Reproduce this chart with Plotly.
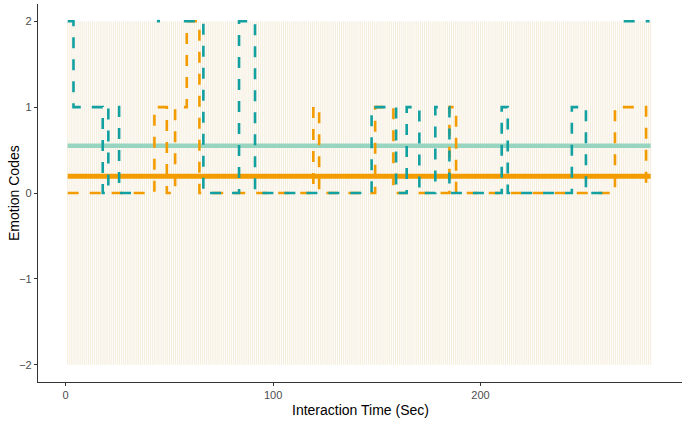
import plotly.graph_objects as go

# observation grid (one record per second)
seconds = list(range(1, 283))

# Teal emotion code series (change points; None = missing stretch)
teal_t = [1, 3.8, 17.9, 20.6, 25.8, 36, None,
          44, 45.5, None,
          57, 66.4, 83.6, 91.3, 147.5, 159.3, 164.4, 170.5, 178.2, 185,
          210.2, 213.1, 244, 250.8, 264, None,
          269, 281.5]
teal_code = [2, 1, 0, 1, 0, 0, None,
             2, 2, None,
             2, 0, 2, 0, 1, 0, 1, 0, 1, 0,
             1, 0, 1, 0, 0, None,
             2, 2]

# Orange emotion code series (change points)
orange_t = [1, 42.8, 48.8, 52.8, 58.4, 64.5, 119.4, 122.2, 149.2, 158,
            185, 188.2, 264.8, 279.8]
orange_code = [0, 1, 0, 1, 2, 0, 1, 0, 1, 0,
               1, 0, 1, 0]

# mean levels
teal_mean = 0.551
orange_mean = 0.194
mean_span = [1, 282]

x_ticks = [0, 100, 200]
y_ticks = [-2, -1, 0, 1, 2]

TEAL = "#13a0a0"
TEAL_LIGHT = "#97d5c0"
ORANGE = "#f39c00"

fig = go.Figure()

vx, vy = [], []
for s in seconds:
    vx += [s, s, None]
    vy += [-2, 2, None]
fig.add_trace(go.Scatter(x=vx, y=vy, mode="lines",
                         line=dict(color="rgba(215,180,110,0.24)", width=1.1),
                         hoverinfo="skip", showlegend=False))

fig.add_trace(go.Scatter(x=mean_span, y=[teal_mean] * 2, mode="lines",
                         line=dict(color=TEAL_LIGHT, width=4.5), showlegend=False))
fig.add_trace(go.Scatter(x=mean_span, y=[orange_mean] * 2, mode="lines",
                         line=dict(color=ORANGE, width=5), showlegend=False))

fig.add_trace(go.Scatter(x=orange_t, y=orange_code, mode="lines",
                         line=dict(color=ORANGE, width=2.6, dash="11px,11px", shape="hv"),
                         connectgaps=False, showlegend=False))
fig.add_trace(go.Scatter(x=teal_t, y=teal_code, mode="lines",
                         line=dict(color=TEAL, width=2.6, dash="11px,11px", shape="hv"),
                         connectgaps=False, showlegend=False))

axis_common = dict(showgrid=False, zeroline=False, showline=True, automargin=False,
                   linecolor="#333333", linewidth=1.2,
                   ticks="outside", ticklen=3, tickcolor="#333333", tickwidth=1.1,
                   tickfont=dict(family="Liberation Sans, Arial", size=11, color="#4d4d4d"))

fig.update_layout(
    width=685, height=421,
    margin=dict(l=38, r=3, t=4, b=39),
    paper_bgcolor="white", plot_bgcolor="white",
    font=dict(family="Liberation Sans, Arial"),
    xaxis=dict(range=[-13.3, 297.1], tickvals=x_ticks, **axis_common),
    yaxis=dict(range=[-2.2, 2.2], tickvals=y_ticks, **axis_common),
    annotations=[
        dict(text="Interaction Time (Sec)", xref="paper", yref="paper",
             x=0.5, y=0, xanchor="center", yanchor="middle", yshift=-28,
             showarrow=False, font=dict(size=14, color="black")),
        dict(text="Emotion Codes", xref="paper", yref="paper",
             x=0, y=0.5, xanchor="center", yanchor="middle", xshift=-24,
             textangle=-90, showarrow=False, font=dict(size=14, color="black")),
    ],
)

fig.write_html("out.html", config={"displayModeBar": False},
               post_script="document.body.style.margin='0';document.body.style.overflow='hidden';")
